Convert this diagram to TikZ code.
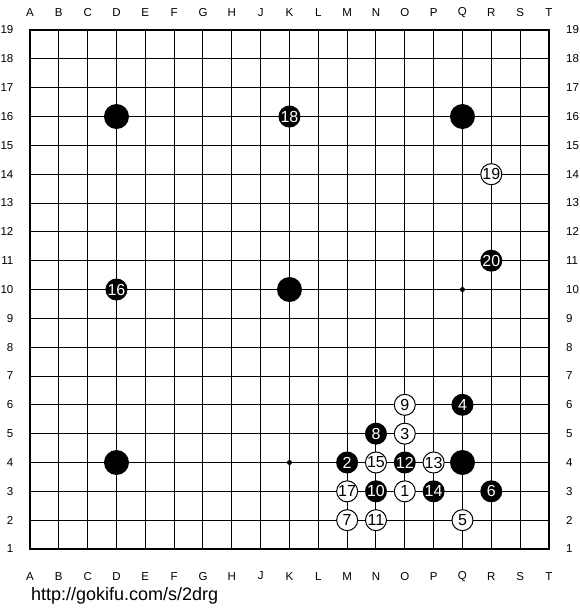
\documentclass[tikz,border=0pt]{standalone}
\usepackage{fontspec}
\setmainfont{Liberation Sans}
\usepackage{tikz}
\usetikzlibrary{positioning}
\tikzset{
    grid line/.style={line width=1pt}, % thin board lines
    edge line/.style={line width=2pt}, % board frame
    coord/.style={font=\fontsize{11.5}{11.5}\selectfont, inner sep=0pt},
    hoshi/.style={circle, fill=black, inner sep=0pt, minimum size=5pt},
    big stone/.style={circle, fill=black, inner sep=0pt, minimum size=25pt},
    black stone/.style={circle, fill=black, text=white, inner sep=0pt, minimum size=22pt,
        font=\fontsize{16}{16}\selectfont},
    white stone/.style={circle, draw=black, line width=1pt, fill=white, text=black, inner sep=0pt,
        minimum size=21pt, font=\fontsize{16}{16}\selectfont},
}

\begin{document}
\begin{tikzpicture}[x=28.83pt, y=28.83pt]
    \useasboundingbox[fill=white] (-1.0406,-2.116) rectangle (19.077,19.042);

    % board
    \foreach \i in {1,...,17} {
        \draw[grid line] (\i,0) -- (\i,18);
        \draw[grid line] (0,\i) -- (18,\i);
    }
    \draw[edge line] (0,0) rectangle (18,18);

    % coordinates
    \foreach \c [count=\i from 0] in {A,B,C,D,E,F,G,H,J,K,L,M,N,O,P,Q,R,S,T} {
        \node[coord] (top\c) at (\i,18.59) {\c};
        \node[coord] (bot\c) at (\i,-0.94) {\c};
    }
    \foreach \r in {1,...,19} {
        \node[coord, anchor=east] (left\r) at (-0.57,\r-1) {\r};
        \node[coord, anchor=west] (right\r) at (18.59,\r-1) {\r};
    }

    % star points
    \foreach \x/\y [count=\k] in {3/3,9/3,15/3,3/9,9/9,15/9,3/15,9/15,15/15}
        \node[hoshi] (h\k) at (\x,\y) {};

    % handicap stones
    \node[big stone] (D16) at (3,15) {};
    \node[big stone] (Q16) at (15,15) {};
    \node[big stone] (K10) at (9,9) {};
    \node[big stone] (D4) at (3,3) {};
    \node[big stone] (Q4) at (15,3) {};

    % moves
    \node[white stone] (m1) at (13,2) {1};
    \node[black stone] (m2) at (11,3) {2};
    \node[white stone] (m3) at (13,4) {3};
    \node[black stone] (m4) at (15,5) {4};
    \node[white stone] (m5) at (15,1) {5};
    \node[black stone] (m6) at (16,2) {6};
    \node[white stone] (m7) at (11,1) {7};
    \node[black stone] (m8) at (12,4) {8};
    \node[white stone] (m9) at (13,5) {9};
    \node[black stone] (m10) at (12,2) {10};
    \node[white stone] (m11) at (12,1) {11};
    \node[black stone] (m12) at (13,3) {12};
    \node[white stone] (m13) at (14,3) {13};
    \node[black stone] (m14) at (14,2) {14};
    \node[white stone] (m15) at (12,3) {15};
    \node[black stone] (m16) at (3,9) {16};
    \node[white stone] (m17) at (11,2) {17};
    \node[black stone] (m18) at (9,15) {18};
    \node[white stone] (m19) at (16,13) {19};
    \node[black stone] (m20) at (16,10) {20};

    % source
    \node[anchor=base west, inner sep=0pt, font=\fontsize{18}{18}\selectfont] (url) at (0.03,-1.79) {http://gokifu.com/s/2drg};
\end{tikzpicture}
\end{document}
